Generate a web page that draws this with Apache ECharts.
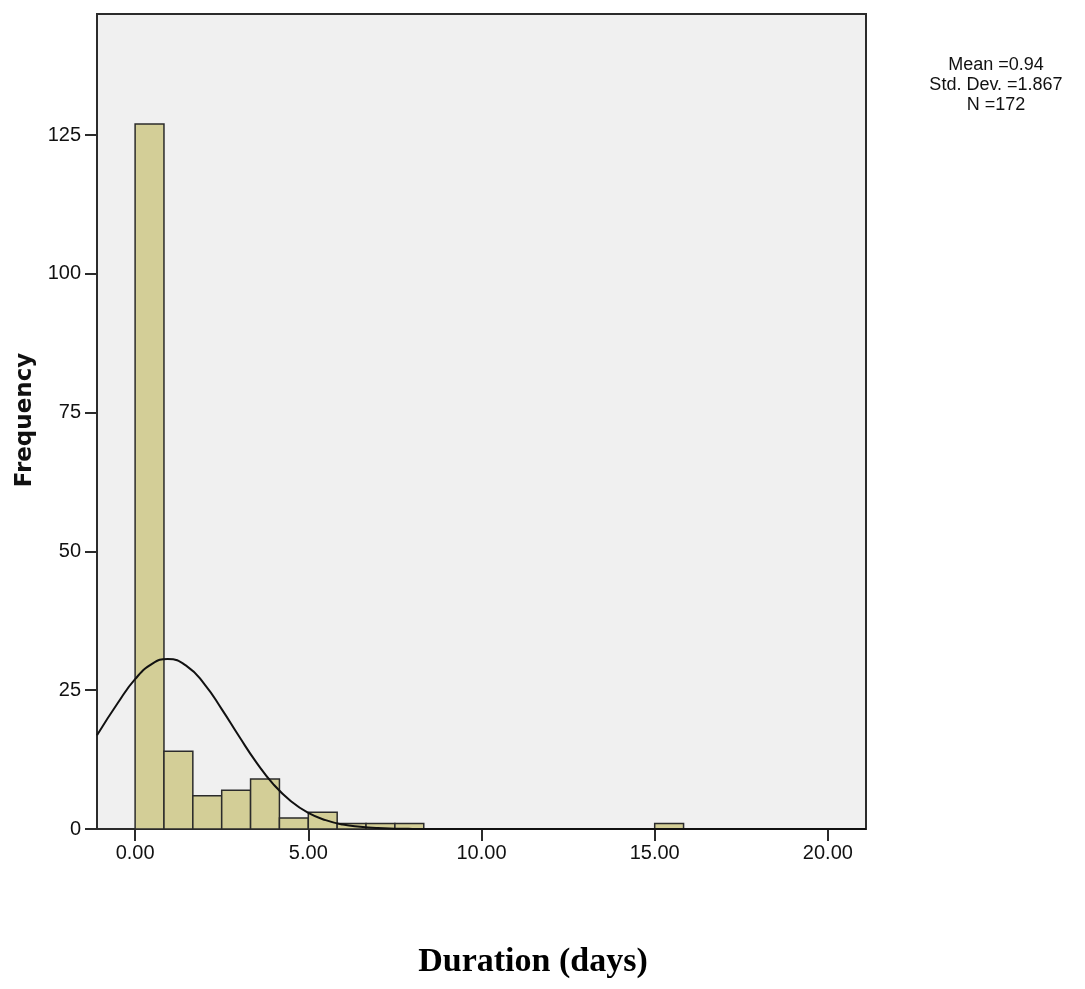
<!DOCTYPE html>
<html>
<head>
<meta charset="utf-8">
<script src="https://cdn.jsdelivr.net/npm/echarts@6/dist/echarts.min.js"></script>
<style>
  html, body { margin: 0; padding: 0; background: #fff; }
  #main { width: 1085px; height: 989px; }
</style>
</head>
<body>
<div id="main"></div>
<script>
// histogram bins (width 5/6 day), counts
var binWidth = 5 / 6;
var binCounts = [127, 14, 6, 7, 9, 2, 3, 1, 1, 1, 0, 0, 0, 0, 0, 0, 0, 0, 1];

// normal curve as drawn on the picture
var curveX = [-1.1, -0.5, 0, 0.5, 0.94, 1.5, 2, 2.5, 3, 3.5, 4, 4.5, 5, 5.5, 6, 6.5, 7, 7.5, 8, 9, 10, 12, 15, 18, 21.1];
var curveY = [16.9, 22.7, 27.0, 29.8, 30.6, 29.3, 26.1, 21.6, 16.7, 12.0, 8.0, 5.0, 2.9, 1.6, 0.8, 0.4, 0.16, 0.06, 0.02, 0, 0, 0, 0, 0, 0];

var xTicks = [0, 5, 10, 15, 20];
var yTicks = [0, 25, 50, 75, 100, 125];

var statLines = ['Mean =0.94', 'Std. Dev. =1.867', 'N =172'];

var barData = [];
binCounts.forEach(function (c, i) {
    if (c > 0) barData.push([i * binWidth, (i + 1) * binWidth, c]);
});
var lineData = curveX.map(function (x, i) { return [x, curveY[i]]; });

var chart = echarts.init(document.getElementById('main'));

var option = {
    backgroundColor: '#fff',
    animation: false,
    grid: {
        left: 97, right: 219, top: 14, bottom: 160,
        show: true,
        backgroundColor: '#f0f0f0',
        borderColor: '#2b2b2b',
        borderWidth: 2,
        outerBoundsMode: 'none'
    },
    xAxis: {
        type: 'value',
        min: -1.1,
        max: 21.1,
        axisLine: {show: false, onZero: false},
        splitLine: {show: false},
        axisTick: {
            show: true, length: 12, customValues: xTicks,
            lineStyle: {color: '#2b2b2b', width: 2}
        },
        axisLabel: {
            customValues: xTicks,
            margin: 14,
            color: '#111',
            fontFamily: 'Liberation Sans, Arial, sans-serif',
            fontSize: 20,
            formatter: function (v) { return v.toFixed(2); }
        }
    },
    yAxis: {
        type: 'value',
        min: 0,
        max: 146.8,
        axisLine: {show: false, onZero: false},
        splitLine: {show: false},
        axisTick: {
            show: true, length: 12, customValues: yTicks,
            lineStyle: {color: '#2b2b2b', width: 2}
        },
        axisLabel: {
            customValues: yTicks,
            margin: 16,
            color: '#111',
            fontFamily: 'Liberation Sans, Arial, sans-serif',
            fontSize: 20
        }
    },
    graphic: [
        {
            type: 'text',
            x: 25, y: 420,
            rotation: Math.PI / 2,
            style: {
                text: 'Frequency',
                fill: '#111',
                font: 'bold 23px "DejaVu Sans", sans-serif',
                align: 'center',
                verticalAlign: 'middle'
            }
        },
        {
            type: 'text',
            x: 533, y: 962,
            style: {
                text: 'Duration (days)',
                fill: '#000',
                font: 'bold 34px "Liberation Serif", "Times New Roman", serif',
                align: 'center',
                verticalAlign: 'middle'
            }
        },
        {
            type: 'text',
            x: 996, y: 55,
            style: {
                text: statLines.join('\n'),
                fill: '#111',
                font: '18px "Liberation Sans", Arial, sans-serif',
                lineHeight: 20,
                align: 'center',
                verticalAlign: 'top'
            }
        }
    ],
    series: [
        {
            type: 'custom',
            data: barData,
            z: 2,
            renderItem: function (params, api) {
                var p0 = api.coord([api.value(0), api.value(2)]);
                var p1 = api.coord([api.value(1), 0]);
                return {
                    type: 'rect',
                    shape: {x: p0[0], y: p0[1], width: p1[0] - p0[0], height: p1[1] - p0[1]},
                    style: {fill: '#d3ce97', stroke: '#2b2b2b', lineWidth: 1.5}
                };
            }
        },
        {
            type: 'line',
            data: lineData,
            z: 3,
            smooth: true,
            showSymbol: false,
            symbol: 'none',
            lineStyle: {color: '#111', width: 2}
        }
    ]
};

chart.setOption(option);
</script>
</body>
</html>
